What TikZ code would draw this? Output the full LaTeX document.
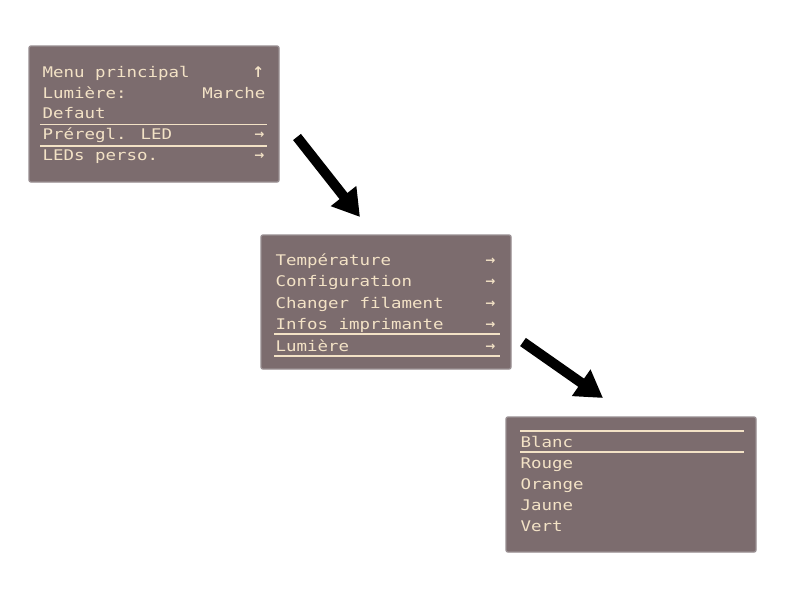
\documentclass[tikz,border=0pt]{standalone}
\usepackage{fontspec}
\usetikzlibrary{arrows.meta}
\newfontfamily\lcdfont[FakeStretch=1.19]{DejaVu Sans Mono}
\newfontfamily\symfont{DejaVu Sans}
\definecolor{lcdback}{RGB}{124,108,110}
\definecolor{lcdedge}{RGB}{152,142,145}
\definecolor{lcdcream}{RGB}{243,226,198}
\tikzset{every picture/.style={line width=0.75pt}}
\tikzset{
  screen/.style={fill=lcdback, draw=lcdedge, line width=1pt, rounded corners=1.5pt},
  menuitem/.style={anchor=base west, inner sep=0pt, text=lcdcream, font=\lcdfont\fontsize{11}{13}\selectfont},
  menuright/.style={menuitem, anchor=base east},
  menuarrow/.style={anchor=base east, inner sep=0pt, text=lcdcream, font=\symfont\bfseries\fontsize{9}{10}\selectfont},
  selline/.style={draw=lcdcream, line width=1.2pt},
  bigarrow/.style={draw=black, line width=7.5pt, -{Triangle[length=20pt,width=23pt]}}
}

\begin{document}
\begin{tikzpicture}[x=0.75pt,y=0.75pt,yscale=-1,xscale=1]
\path[fill=white] (0,0) rectangle (800,600);
\useasboundingbox (0,0) rectangle (800,600);

%Screen: main menu
\draw [screen] (29,46) rectangle (279,182);
%Screen: info menu
\draw [screen] (261,235) rectangle (511,369);
%Screen: colour menu
\draw [screen] (506,417) rectangle (756,552);

%Selection lines
\draw [selline] (40,124.5) -- (267,124.5);
\draw [selline] (40,146) -- (267,146);
\draw [selline] (274,334) -- (500,334);
\draw [selline] (274,356) -- (500,356);
\draw [selline] (520,431) -- (744,431);
\draw [selline] (520,452) -- (744,452);

% Text Node
\node [menuitem] (menuA) at (42,77) {Menu principal};
\node [menuitem] (lightA) at (42,98) {Lumière:};
\node [menuright] (onA) at (266,98) {Marche};
\node [menuitem] (defA) at (42,118.5) {Defaut};
\node [menuitem] (presetA) at (42,139.5) {Préregl. LED};
\node [menuitem] (customA) at (42,160.5) {LEDs perso.};
\node [anchor=base east, inner sep=0pt, text=lcdcream, font=\symfont\bfseries\fontsize{11}{12}\selectfont] (backA) at (265,77) {↑};
\node [menuarrow] (gopresetA) at (265,138.5) {→};
\node [menuarrow] (gocustomA) at (265,159.5) {→};

% Text Node
\node [menuitem] (tempB) at (275,265) {Température};
\node [menuitem] (confB) at (275,286.5) {Configuration};
\node [menuitem] (fileB) at (275,308) {Changer filament};
\node [menuitem] (infoB) at (275,329.5) {Infos imprimante};
\node [menuitem] (lightB) at (275,351) {Lumière};
\foreach \yy [count=\i] in {264,285.5,307,328.5,350}
  \node [menuarrow] (goB\i) at (496,\yy) {→};

% Text Node
\node [menuitem] (whiteC) at (520,447) {Blanc};
\node [menuitem] (redC) at (520,468) {Rouge};
\node [menuitem] (orangeC) at (520,489) {Orange};
\node [menuitem] (yellowC) at (520,510) {Jaune};
\node [menuitem] (greenC) at (520,531.5) {Vert};

%Arrows between screens
\coordinate (arrA tail) at (297,137);
\coordinate (arrA tip) at (360,217);
\coordinate (arrB tail) at (523,342);
\coordinate (arrB tip) at (603,398);
\draw [bigarrow] (arrA tail) -- (arrA tip);
\draw [bigarrow] (arrB tail) -- (arrB tip);

\end{tikzpicture}
\end{document}
